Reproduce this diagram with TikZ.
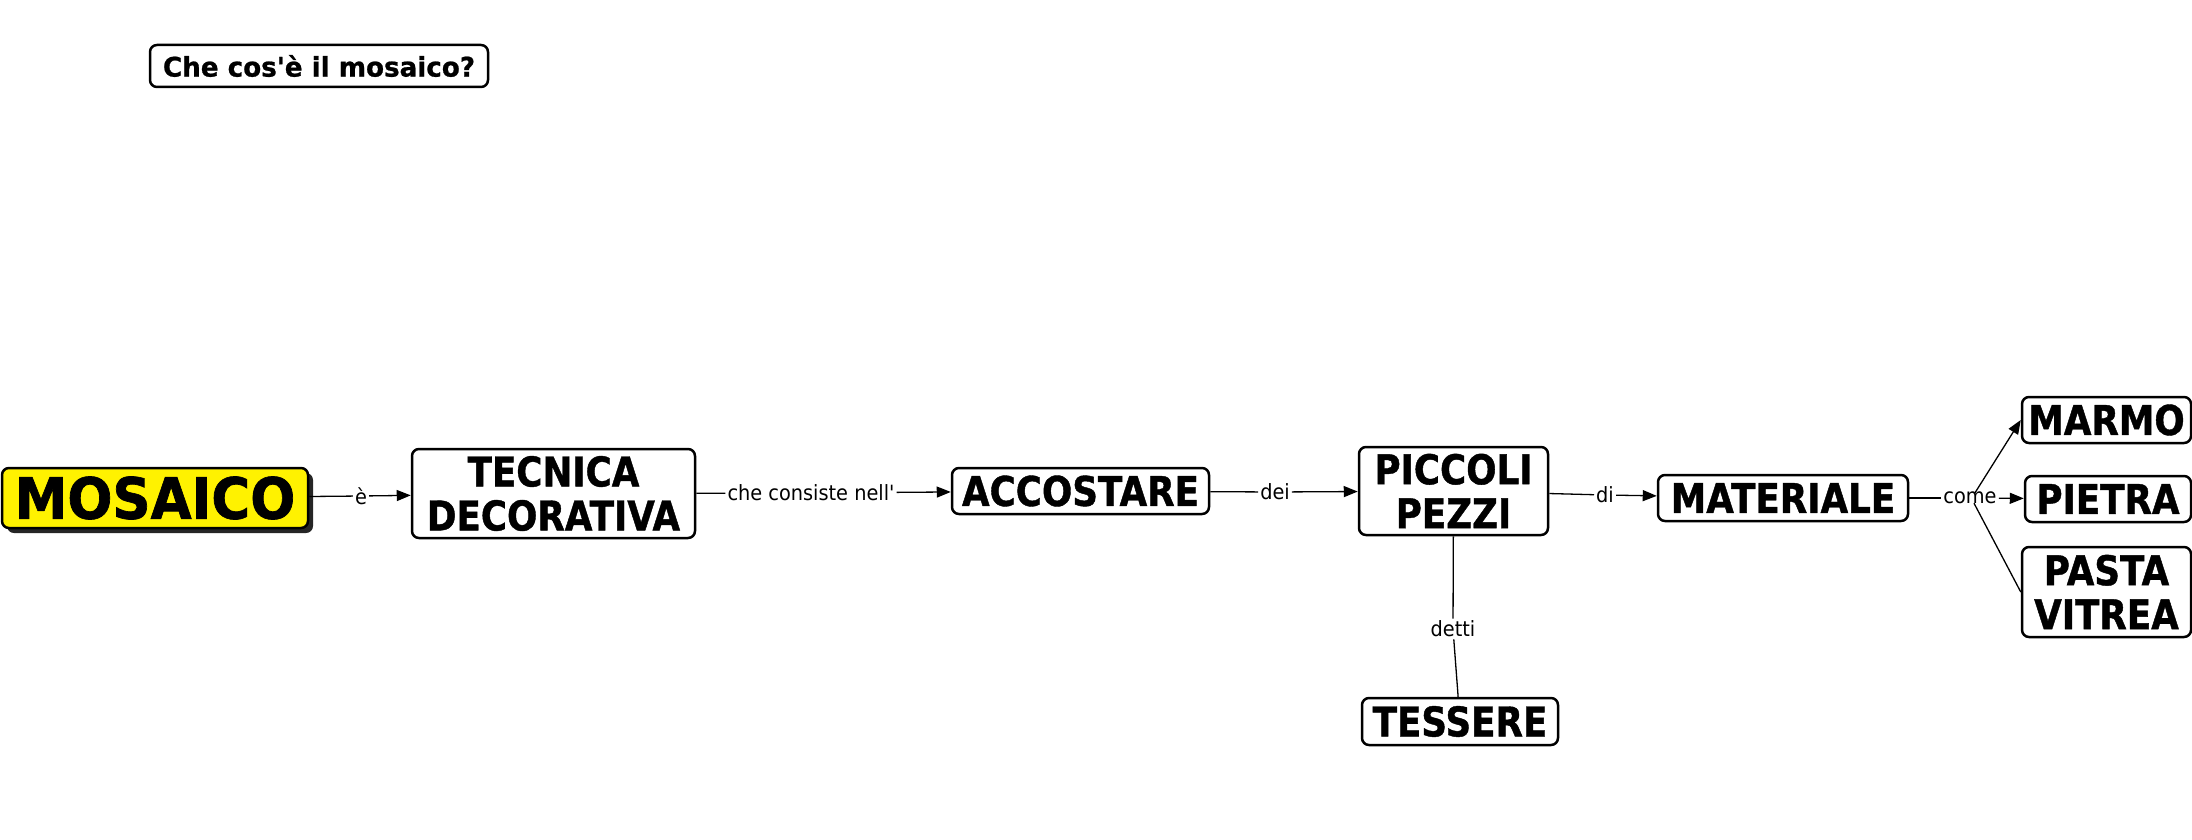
\documentclass[tikz,border=0pt]{standalone}
\usepackage{fontspec}
\setmainfont{DejaVu Sans}
\newfontfamily\nodefont[FakeStretch=0.87,FakeBold=1]{DejaVu Sans}
\newfontfamily\titlefont[FakeStretch=0.97,FakeBold=0.8]{DejaVu Sans}
\newfontfamily\mosfont[FakeStretch=0.93,FakeBold=1.2]{DejaVu Sans}
\newfontfamily\labfont[FakeStretch=0.92]{DejaVu Sans}
\usetikzlibrary{arrows.meta,calc,shadows}
\begin{document}
\begin{tikzpicture}[x=1pt,y=-1pt,
  concept/.style={draw=black, line width=2.5pt, rounded corners=7pt, fill=white,
    inner sep=0pt, align=center, font=\nodefont\bfseries\fontsize{41}{44}\selectfont},
  linklabel/.style={fill=white, inner sep=2pt, font=\labfont\fontsize{21}{23}\selectfont},
  link/.style={line width=1.3pt},
  arr/.style={link, -{Triangle[length=14pt,width=11pt]}}
]
\useasboundingbox (0,0) rectangle (2192,840);
% title
\node[concept, font=\titlefont\bfseries\fontsize{27}{30}\selectfont,
  minimum width=338pt, minimum height=42pt] (title) at (319,66) {Che cos'è il mosaico?};
% concepts
\node[concept, fill=yellow, font=\mosfont\bfseries\fontsize{57}{60}\selectfont,
  minimum width=306pt, minimum height=60pt,
  drop shadow={shadow xshift=5pt, shadow yshift=-5pt, fill=black!85, opacity=1}]
  (mos) at (155,498) {MOSAICO};
\node[concept, minimum width=283pt, minimum height=89pt] (tec) at (553.5,493.5) {TECNICA\\DECORATIVA};
\node[concept, minimum width=257pt, minimum height=46pt] (acc) at (1080.5,491) {ACCOSTARE};
\node[concept, minimum width=189pt, minimum height=88pt] (pic) at (1453.5,491) {PICCOLI\\PEZZI};
\node[concept, minimum width=250pt, minimum height=46pt] (mat) at (1783,498) {MATERIALE};
\node[concept, minimum width=169pt, minimum height=46pt] (mar) at (2106.5,420) {MARMO};
\node[concept, minimum width=166pt, minimum height=46pt] (pie) at (2108,499) {PIETRA};
\node[concept, minimum width=169pt, minimum height=90pt] (pas) at (2106.5,592) {PASTA\\VITREA};
\node[concept, minimum width=196pt, minimum height=47pt] (tes) at (1460,721.5) {TESSERE};
% link labels
\node[linklabel] (l1) at (361,496) {è};
\node[linklabel] (l2) at (811,493) {che consiste nell'};
\node[linklabel] (l3) at (1275,492) {dei};
\node[linklabel] (l4) at (1605,495) {di};
\node[linklabel] (l5) at (1970,498) {come};
\node[linklabel] (l6) at (1453,629) {detti};
% connectors
\draw[link] (mos) -- (l1);
\draw[arr] (l1) -- (tec);
\draw[link] (tec) -- (l2);
\draw[arr] (l2) -- (acc);
\draw[link] (acc) -- (l3);
\draw[arr] (l3) -- (pic);
\draw[link] (pic) -- (l4);
\draw[arr] (l4) -- (mat);
\draw[link] (mat) -- (l5);
\draw[arr] (l5) -- (pie);
\coordinate (c1) at ($(l5.north)+(5,3)$);
\coordinate (c2) at ($(l5.south)+(4,-3)$);
\draw[arr] (c1) -- (mar.west);
\draw[link] (c2) -- (pas.west);
\draw[link] (pic) -- (l6);
\draw[link] (l6) -- (tes);
\end{tikzpicture}
\end{document}
